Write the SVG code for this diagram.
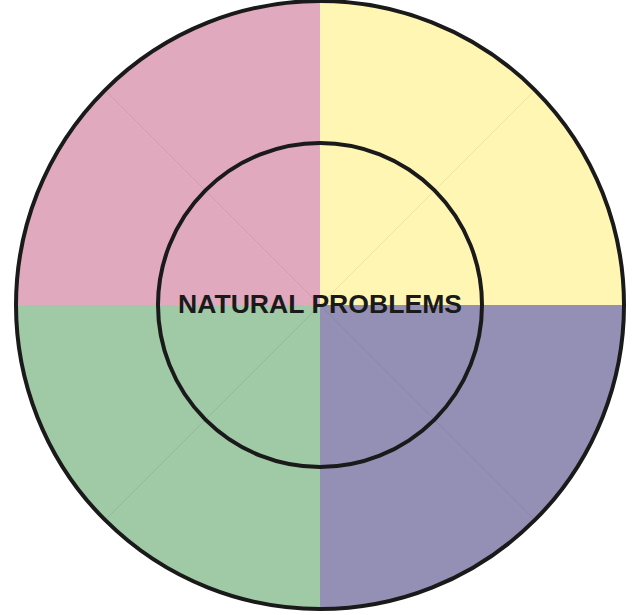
<svg xmlns="http://www.w3.org/2000/svg" width="634" height="615" viewBox="0 0 634 615">
  <style>
    .ring { fill: none; stroke: #1a1a1a; stroke-width: 4; }
    .diag { stroke: #000; stroke-opacity: 0.07; stroke-width: 1; }
    .label { font-family: "Liberation Sans", Arial, sans-serif; font-weight: bold; font-size: 26.5px; fill: #1a1a1a; text-anchor: middle; }
  </style>
  <defs>
    <clipPath id="outerClip"><circle cx="320" cy="305" r="304"/></clipPath>
  </defs>
  <g id="quadrants" clip-path="url(#outerClip)">
    <rect x="0" y="0" width="320" height="305" fill="#E0A9BD"/>
    <rect x="320" y="0" width="320" height="305" fill="#FFF6B3"/>
    <rect x="0" y="305" width="320" height="315" fill="#A0C9A6"/>
    <rect x="320" y="305" width="320" height="315" fill="#9490B5"/>
    <line class="diag" x1="320" y1="305" x2="105" y2="90"/>
    <line class="diag" x1="320" y1="305" x2="535" y2="90"/>
    <line class="diag" x1="320" y1="305" x2="105" y2="520"/>
    <line class="diag" x1="320" y1="305" x2="535" y2="520"/>
  </g>
  <g id="outer-ring"><circle class="ring" cx="320" cy="305" r="304"/></g>
  <g id="inner-ring"><circle class="ring" cx="320" cy="305" r="162"/></g>
  <g id="center-label"><text class="label" x="320" y="313" textLength="284" lengthAdjust="spacingAndGlyphs">NATURAL PROBLEMS</text></g>
</svg>
